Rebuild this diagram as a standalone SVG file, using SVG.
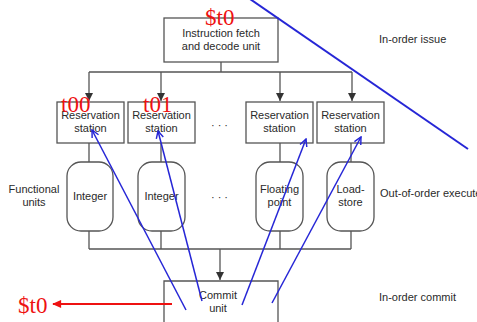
<svg xmlns="http://www.w3.org/2000/svg" width="477" height="322" viewBox="0 0 477 322">
  <defs>
    <marker id="down" viewBox="0 0 8 8" refX="8" refY="4" markerWidth="8" markerHeight="8" markerUnits="userSpaceOnUse" orient="auto">
      <path d="M0,0 L8,4 L0,8 Z" fill="#333"/>
    </marker>
    <marker id="blueTip" viewBox="0 0 10 10" refX="9" refY="5" markerWidth="9" markerHeight="9" markerUnits="userSpaceOnUse" orient="auto">
      <path d="M1,1 L9,5 L1,9" fill="none" stroke="#2626d6" stroke-width="1.6"/>
    </marker>
    <marker id="redTip" viewBox="0 0 10 10" refX="9" refY="5" markerWidth="10" markerHeight="9" markerUnits="userSpaceOnUse" orient="auto">
      <path d="M0,0.5 L10,5 L0,9.5 Z" fill="#ee1111"/>
    </marker>
  </defs>
  <style>
    .box { fill: #fff; stroke: #555; stroke-width: 1.3; }
    .wire { fill: none; stroke: #555; stroke-width: 1.3; }
    .lbl { font-family: "Liberation Sans", Arial, sans-serif; font-size: 11px; fill: #2a2a2a; text-anchor: middle; }
    .side { font-family: "Liberation Sans", Arial, sans-serif; font-size: 11px; fill: #2a2a2a; }
    .red { font-family: "Liberation Serif", "Times New Roman", serif; font-size: 23px; fill: #ee1111; }
    .blue { fill: none; stroke: #2626d6; stroke-width: 1.5; }
  </style>

  <rect width="477" height="322" fill="#fff"/>

  <!-- wiring between the units -->
  <g id="connectors">
    <path class="wire" d="M221,62 V72 M89,72 H352"/>
    <line class="wire" x1="89" y1="72" x2="89" y2="101" marker-end="url(#down)"/>
    <line class="wire" x1="161" y1="72" x2="161" y2="101" marker-end="url(#down)"/>
    <line class="wire" x1="280" y1="72" x2="280" y2="101" marker-end="url(#down)"/>
    <line class="wire" x1="352" y1="72" x2="352" y2="101" marker-end="url(#down)"/>
    <path class="wire" d="M89,143 V162 M161,143 V162 M280,143 V162 M351,143 V162"/>
    <path class="wire" d="M89,231 V249 M161,231 V249 M280,231 V249 M351,231 V249 M89,249 H351"/>
    <line class="wire" x1="220" y1="249" x2="220" y2="280" marker-end="url(#down)"/>
  </g>

  <g id="fetch">
    <rect class="box" x="164" y="18" width="114" height="44"/>
    <text class="lbl" x="221" y="37">Instruction fetch</text>
    <text class="lbl" x="221" y="50">and decode unit</text>
  </g>

  <g id="rs1">
    <rect class="box" x="57" y="102" width="67" height="41"/>
    <text class="lbl" x="90.5" y="119">Reservation</text>
    <text class="lbl" x="90.5" y="132">station</text>
  </g>
  <g id="rs2">
    <rect class="box" x="128" y="102" width="67" height="41"/>
    <text class="lbl" x="161.5" y="119">Reservation</text>
    <text class="lbl" x="161.5" y="132">station</text>
  </g>
  <g id="rs3">
    <rect class="box" x="246" y="102" width="67" height="41"/>
    <text class="lbl" x="279.5" y="119">Reservation</text>
    <text class="lbl" x="279.5" y="132">station</text>
  </g>
  <g id="rs4">
    <rect class="box" x="317" y="102" width="67" height="41"/>
    <text class="lbl" x="350.5" y="119">Reservation</text>
    <text class="lbl" x="350.5" y="132">station</text>
  </g>
  <text class="lbl" x="221" y="129" letter-spacing="3">···</text>

  <g id="fu-int1">
    <rect class="box" x="67" y="162" width="46" height="69" rx="14"/>
    <text class="lbl" x="90" y="200">Integer</text>
  </g>
  <g id="fu-int2">
    <rect class="box" x="138" y="162" width="47" height="69" rx="14"/>
    <text class="lbl" x="161.5" y="200">Integer</text>
  </g>
  <g id="fu-fp">
    <rect class="box" x="256" y="162" width="47" height="69" rx="14"/>
    <text class="lbl" x="279.5" y="193">Floating</text>
    <text class="lbl" x="279.5" y="206">point</text>
  </g>
  <g id="fu-ls">
    <rect class="box" x="327" y="162" width="47" height="69" rx="14"/>
    <text class="lbl" x="350.5" y="193">Load-</text>
    <text class="lbl" x="350.5" y="206">store</text>
  </g>
  <text class="lbl" x="221" y="201" letter-spacing="3">···</text>

  <g id="commit">
    <path class="box" d="M164,325 V281 H278 V325"/>
    <text class="lbl" x="218" y="299">Commit</text>
    <text class="lbl" x="218" y="312">unit</text>
  </g>

  <!-- stage captions -->
  <text class="lbl" x="34" y="193">Functional</text>
  <text class="lbl" x="34" y="206">units</text>
  <text class="side" x="379" y="43">In-order issue</text>
  <text class="side" x="380" y="197">Out-of-order execute</text>
  <text class="side" x="379" y="301">In-order commit</text>

  <!-- annotations -->
  <g id="notes">
    <line x1="250" y1="-1" x2="468" y2="149" stroke="#2626d6" stroke-width="2"/>
    <line class="blue" x1="186" y1="310" x2="92" y2="130" marker-end="url(#blueTip)"/>
    <line class="blue" x1="202" y1="301" x2="158" y2="131" marker-end="url(#blueTip)"/>
    <line class="blue" x1="242" y1="305" x2="306" y2="139" marker-end="url(#blueTip)"/>
    <line class="blue" x1="272" y1="303" x2="361" y2="137" marker-end="url(#blueTip)"/>
    <line x1="172" y1="304" x2="53" y2="304" stroke="#ee1111" stroke-width="2" marker-end="url(#redTip)"/>
    <text class="red" x="205" y="25">$t0</text>
    <text class="red" x="61" y="112">t00</text>
    <text class="red" x="143" y="112">t01</text>
    <text class="red" x="18" y="313">$t0</text>
  </g>
</svg>
